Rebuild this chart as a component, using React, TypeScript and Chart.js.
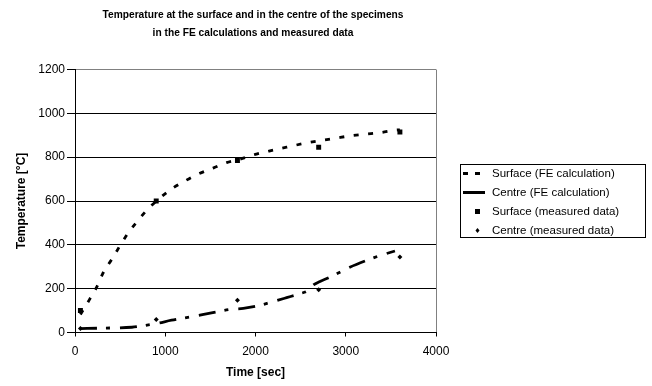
import React, { useEffect, useRef } from "react";
import { Chart, registerables } from "chart.js";

Chart.register(...registerables);

const titleLines = [
  "Temperature at the surface and in the centre of the specimens",
  "in the FE calculations and measured data",
];
const xAxisTitle = "Time [sec]";
const yAxisTitle = "Temperature [°C]";
const xTicks = [0, 1000, 2000, 3000, 4000];
const yTicks = [0, 200, 400, 600, 800, 1000, 1200];

const legendLabels = [
  "Surface (FE calculation)",
  "Centre (FE calculation)",
  "Surface (measured data)",
  "Centre (measured data)",
];

const surfaceFeTime = [60, 160, 240, 315, 405, 500, 590, 690, 800, 905, 1070, 1220, 1365, 1530, 1680, 1830, 2010, 2195, 2360, 2530, 2695, 2880, 3045, 3210, 3380, 3545, 3600];
const surfaceFeTemp = [82, 150, 207, 275, 332, 397, 455, 507, 560, 601, 655, 692, 723, 750, 775, 791, 814, 832, 847, 862, 874, 886, 897, 905, 912, 923, 925];

const centreFeTime = [55, 300, 630, 740, 905, 1070, 1235, 1385, 1570, 1715, 1865, 2030, 2180, 2345, 2490, 2585, 2630, 2715, 2790, 2935, 3045, 3230, 3380, 3545];
const centreFeTemp = [18, 20, 24, 30, 41, 56, 68, 79, 94, 105, 110, 122, 139, 159, 177, 192, 213, 233, 246, 275, 298, 329, 351, 372];

const measuredTime = [60, 900, 1800, 2700, 3600];
const surfaceMeasured = [100, 600, 785, 845, 915];
const centreMeasured = [18, 59, 147, 195, 344];

const toPoints = (xs: number[], ys: number[]) => xs.map((x, i) => ({ x, y: ys[i] }));

const FONT = "'Liberation Sans', Arial, sans-serif";

const surfaceDash = [5, 9.5];
const centreDash = [17, 9, 4, 10];

const decorPlugin = {
  id: "decor",
  afterDraw(chart: any) {
    const ctx = chart.ctx as CanvasRenderingContext2D;
    ctx.save();
    // Title (horizontally condensed like the original)
    ctx.fillStyle = "#000";
    ctx.font = `bold 11px ${FONT}`;
    ctx.textAlign = "center";
    ctx.textBaseline = "middle";
    const w0 = ctx.measureText(titleLines[0]).width;
    const sx = w0 > 0 ? 301 / w0 : 1;
    ctx.save();
    ctx.translate(253, 0);
    ctx.scale(sx, 1);
    ctx.fillText(titleLines[0], 0, 15);
    ctx.fillText(titleLines[1], 0, 33);
    ctx.restore();

    // Legend box
    const bx = 460.5, by = 164.5, bw = 185, bh = 73;
    ctx.strokeStyle = "#000";
    ctx.lineWidth = 1;
    ctx.setLineDash([]);
    ctx.strokeRect(bx, by, bw, bh);
    const rows = [173.5, 192.5, 211.5, 230.5];
    ctx.font = `11.5px ${FONT}`;
    ctx.textAlign = "left";
    legendLabels.forEach((label, i) => {
      ctx.fillStyle = "#000";
      ctx.fillText(label, 492, rows[i]);
    });
    // symbols
    ctx.lineWidth = 3;
    ctx.lineCap = "butt";
    ctx.setLineDash([5, 7]);
    ctx.beginPath();
    ctx.moveTo(463, rows[0]);
    ctx.lineTo(481, rows[0]);
    ctx.stroke();
    ctx.setLineDash([]);
    ctx.beginPath();
    ctx.moveTo(463, rows[1]);
    ctx.lineTo(485, rows[1]);
    ctx.stroke();
    ctx.fillRect(475, rows[2] - 2.5, 5, 5);
    ctx.beginPath();
    ctx.moveTo(477.5, rows[3] - 2.5);
    ctx.lineTo(479.5, rows[3]);
    ctx.lineTo(477.5, rows[3] + 2.5);
    ctx.lineTo(475.5, rows[3]);
    ctx.closePath();
    ctx.fill();
    ctx.restore();
  },
};

export default function App() {
  const canvasRef = useRef<HTMLCanvasElement | null>(null);

  useEffect(() => {
    document.body.style.margin = "0";
    const canvas = canvasRef.current;
    if (!canvas) return;
    const chart = new Chart(canvas, {
      type: "scatter",
      data: {
        datasets: [
          {
            label: legendLabels[2],
            data: toPoints(measuredTime, surfaceMeasured),
            pointStyle: "rect",
            pointRadius: 3.5,
            backgroundColor: "#000",
            borderColor: "#000",
            borderWidth: 0,
            showLine: false,
          },
          {
            label: legendLabels[3],
            data: toPoints(measuredTime, centreMeasured),
            pointStyle: "rectRot",
            pointRadius: 2.5,
            backgroundColor: "#000",
            borderColor: "#000",
            borderWidth: 0,
            showLine: false,
          },
          {
            label: legendLabels[0],
            data: toPoints(surfaceFeTime, surfaceFeTemp),
            showLine: true,
            pointRadius: 0,
            borderColor: "#000",
            borderWidth: 2.8,
            borderDash: surfaceDash,
            cubicInterpolationMode: "monotone",
            fill: false,
          },
          {
            label: legendLabels[1],
            data: toPoints(centreFeTime, centreFeTemp),
            showLine: true,
            pointRadius: 0,
            borderColor: "#000",
            borderWidth: 2.8,
            borderDash: centreDash,
            cubicInterpolationMode: "monotone",
            fill: false,
          },
        ],
      },
      options: {
        animation: false,
        responsive: false,
        devicePixelRatio: 1,
        layout: { padding: { left: 0, right: 216, top: 69.5, bottom: 0 } },
        plugins: {
          legend: { display: false },
          title: { display: false },
          tooltip: { enabled: false },
        },
        scales: {
          x: {
            type: "linear",
            min: 0,
            max: 4000,
            afterFit: (scale: any) => {
              scale.height = 53.5;
            },
            afterBuildTicks: (scale: any) => {
              scale.ticks = xTicks.map((v) => ({ value: v }));
            },
            grid: {
              drawOnChartArea: true,
              color: (c: any) => (c.tick && c.tick.value === 4000 ? "#808080" : "rgba(0,0,0,0)"),
              tickColor: "#000",
              tickLength: 4,
            },
            border: { color: "#000", width: 1 },
            ticks: {
              color: "#000",
              font: { family: FONT, size: 12 },
              padding: 8,
              maxRotation: 0,
              callback: (v: any) => String(v),
            },
            title: {
              display: true,
              text: xAxisTitle,
              color: "#000",
              font: { family: FONT, size: 12, weight: "bold" },
              padding: { top: 0, bottom: 6 },
            },
          },
          y: {
            type: "linear",
            min: 0,
            max: 1200,
            afterFit: (scale: any) => {
              scale.width = 75;
            },
            afterBuildTicks: (scale: any) => {
              scale.ticks = yTicks.map((v) => ({ value: v }));
            },
            grid: {
              color: (c: any) => (c.tick && c.tick.value === 1200 ? "#808080" : "#000"),
              tickColor: "#000",
              tickLength: 8,
            },
            border: { color: "#000", width: 1 },
            ticks: {
              color: "#000",
              font: { family: FONT, size: 12 },
              padding: 2,
              callback: (v: any) => String(v),
            },
            title: {
              display: true,
              text: yAxisTitle,
              color: "#000",
              font: { family: FONT, size: 12, weight: "bold" },
              padding: { top: 14, bottom: 0 },
            },
          },
        },
      } as any,
      plugins: [decorPlugin],
    });
    return () => chart.destroy();
  }, []);

  return (
    <div style={{ width: 652, height: 386 }}>
      <canvas ref={canvasRef} width={652} height={386} style={{ display: "block" }} />
    </div>
  );
}
